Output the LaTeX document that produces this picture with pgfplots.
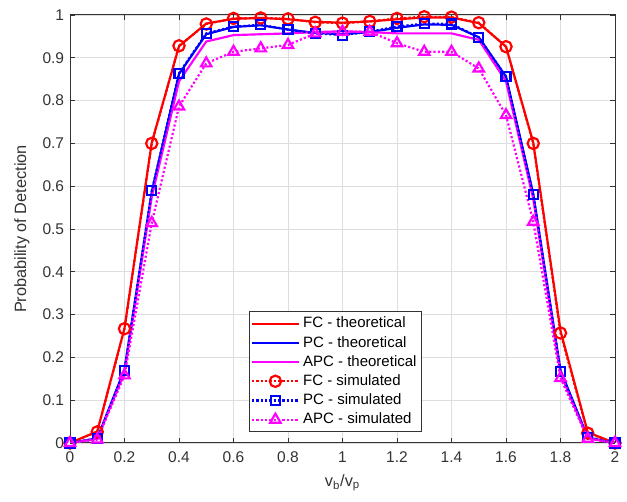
\documentclass[border=0pt]{standalone}
\usepackage{fontspec}
\setmainfont{Liberation Sans}
\usepackage{pgfplots}
\usepackage{pgfplotstable}
\pgfplotsset{compat=1.18}

\definecolor{axgray}{gray}{0.2}
\definecolor{gridgray}{gray}{0.87}
\definecolor{mred}{rgb}{1,0,0}
\definecolor{mblue}{rgb}{0,0,1}
\definecolor{mmag}{rgb}{1,0,1}

% x, theoretical and simulated detection probability
\pgfplotstableread{
x    fcT    pcT    apcT   fcS    pcS    apcS
0.0  0.000  0.000  0.000  0.000  0.000  0.000
0.1  0.027  0.011  0.010  0.026  0.010  0.008
0.2  0.268  0.172  0.165  0.267  0.170  0.158
0.3  0.702  0.587  0.575  0.700  0.589  0.514
0.4  0.927  0.862  0.845  0.928  0.864  0.786
0.5  0.980  0.955  0.938  0.979  0.957  0.887
0.6  0.991  0.972  0.953  0.992  0.973  0.914
0.7  0.993  0.976  0.955  0.993  0.977  0.922
0.8  0.990  0.966  0.957  0.991  0.966  0.930
0.9  0.984  0.958  0.960  0.983  0.957  0.957
1.0  0.982  0.955  0.962  0.981  0.953  0.961
1.1  0.985  0.960  0.960  0.985  0.961  0.961
1.2  0.990  0.970  0.957  0.992  0.973  0.934
1.3  0.994  0.978  0.957  0.996  0.980  0.914
1.4  0.994  0.977  0.957  0.995  0.979  0.914
1.5  0.981  0.948  0.942  0.982  0.948  0.875
1.6  0.926  0.856  0.845  0.926  0.856  0.766
1.7  0.702  0.582  0.570  0.700  0.580  0.517
1.8  0.262  0.170  0.162  0.257  0.167  0.152
1.9  0.025  0.013  0.011  0.023  0.012  0.010
2.0  0.000  0.000  0.000  0.000  0.000  0.000
}\pd

\begin{document}
\begin{tikzpicture}
  \begin{axis}[
      scale only axis,
      width=327pt, height=256.8pt,
      xmin=0, xmax=2, ymin=0, ymax=1,
      xtick={0,0.2,0.4,0.6,0.8,1,1.2,1.4,1.6,1.8,2},
      ytick={0,0.1,0.2,0.3,0.4,0.5,0.6,0.7,0.8,0.9,1},
      grid=major,
      major grid style={gridgray, line width=0.4pt},
      tick align=inside,
      major tick length=3pt,
      axis line style={axgray, line width=0.6pt},
      tick style={axgray, line width=0.5pt},
      /pgf/number format/assume math mode=true,
      tick label style={font=\fontsize{9.3}{11}\selectfont, text=axgray},
      xticklabel style={yshift=-1.5pt},
      xlabel={v\textsubscript{b}/v\textsubscript{p}},
      ylabel={Probability of Detection},
      label style={font=\fontsize{9.8}{12}\selectfont, text=axgray},
      xlabel style={yshift=-0.5pt},
      ylabel style={yshift=1pt},
      legend cell align=left,
      legend style={
        at={(rel axis cs:0.487,0.026)}, anchor=south,
        draw=axgray, fill=white, line width=0.6pt,
        font=\fontsize{9}{11}\selectfont,
        inner xsep=1pt, inner ysep=1pt, row sep=-0.5pt,
      },
      legend image code/.code={
        \draw[mark repeat=2, mark phase=2]
          plot coordinates {(0pt,0pt) (14pt,0pt) (28pt,0pt)};
      },
      every axis plot/.append style={line width=1.3pt},
      sim/.style={dash pattern=on 1.3pt off 1.3pt, mark options={solid}},
    ]
    \addplot[mred, no marks] table[x=x, y=fcT] {\pd};
    \addlegendentry{FC - theoretical}
    \addplot[mblue, no marks] table[x=x, y=pcT] {\pd};
    \addlegendentry{PC - theoretical}
    \addplot[mmag, no marks] table[x=x, y=apcT] {\pd};
    \addlegendentry{APC - theoretical}
    \addplot[mred, sim, mark=o, mark size=3.4pt] table[x=x, y=fcS] {\pd};
    \addlegendentry{FC - simulated}
    \addplot[mblue, sim, mark=square, mark size=2.7pt] table[x=x, y=pcS] {\pd};
    \addlegendentry{PC - simulated}
    \addplot[mmag, sim, mark=triangle, mark size=3.6pt] table[x=x, y=apcS] {\pd};
    \addlegendentry{APC - simulated}
  \end{axis}
  \pgfresetboundingbox
  \path (-42pt,-35.4pt) rectangle (334.2pt,265.8pt);
\end{tikzpicture}
\end{document}
